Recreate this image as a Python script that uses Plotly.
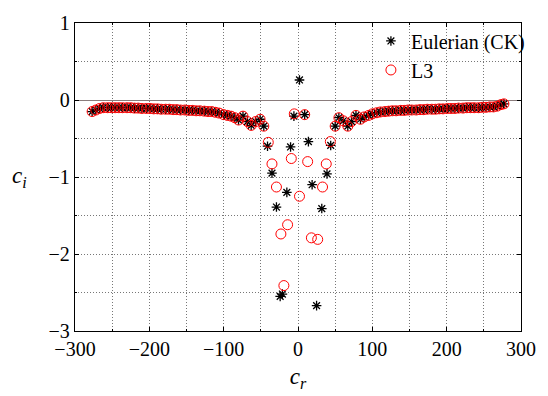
import plotly.graph_objects as go

# Branch points (both methods coincide there)
left_cr = [-277, -272, -267, -262, -256, -251, -246, -241, -236, -230, -225, -220, -215, -210,
           -204, -199, -194, -189, -184, -178, -173, -168, -163, -158, -152, -147, -142, -137,
           -132, -126, -121, -116, -111, -106, -100, -95, -90, -85, -80, -74, -68, -63, -57, -51, -46]
left_ci = [-0.15, -0.13, -0.11, -0.10, -0.10, -0.10, -0.10, -0.10, -0.10, -0.10, -0.10, -0.105,
           -0.105, -0.11, -0.11, -0.11, -0.115, -0.115, -0.12, -0.12, -0.12, -0.125, -0.125, -0.13,
           -0.13, -0.135, -0.135, -0.14, -0.14, -0.145, -0.15, -0.15, -0.16, -0.17, -0.19, -0.20,
           -0.21, -0.23, -0.26, -0.21, -0.28, -0.33, -0.28, -0.25, -0.34]
right_cr = [50, 55, 61, 67, 72, 78, 84, 89, 95, 100, 106, 111, 117, 122, 127, 132, 138, 143, 148,
            153, 159, 164, 169, 174, 180, 185, 190, 195, 201, 206, 211, 216, 222, 227, 232, 237,
            243, 248, 253, 258, 263, 268, 273, 277]
right_ci = [-0.34, -0.23, -0.27, -0.34, -0.28, -0.20, -0.25, -0.22, -0.20, -0.18, -0.165, -0.155,
            -0.15, -0.145, -0.14, -0.14, -0.135, -0.135, -0.13, -0.13, -0.13, -0.125, -0.125, -0.12,
            -0.12, -0.12, -0.115, -0.115, -0.11, -0.11, -0.11, -0.105, -0.105, -0.10, -0.10, -0.10,
            -0.10, -0.095, -0.095, -0.09, -0.09, -0.08, -0.06, -0.05]

# Central (scattered) eigenvalues
euler_cr = [2, -5.5, 9, -41, -10, 14, 44, -35, 39, -15, 19, -29, 32, -21, -24, 25]
euler_ci = [0.26, -0.21, -0.19, -0.60, -0.61, -0.54, -0.59, -0.95, -0.96, -1.20, -1.10, -1.39,
            -1.41, -2.52, -2.55, -2.67]
l3_cr = [-5, 9, -40, 43.5, -35, -9, 13, 38, -29, 33, 2, -14, -23, 18, 26.5, -19]
l3_ci = [-0.18, -0.19, -0.55, -0.54, -0.83, -0.76, -0.80, -0.83, -1.13, -1.13, -1.25, -1.62,
         -1.74, -1.79, -1.81, -2.41]

x_ticks = [-300, -200, -100, 0, 100, 200, 300]
y_ticks = [1, 0, -1, -2, -3]

euler_x = left_cr + euler_cr + right_cr
euler_y = left_ci + euler_ci + right_ci
l3_x = left_cr + l3_cr + right_cr
l3_y = left_ci + l3_ci + right_ci

FONT = "Liberation Serif, Times New Roman, serif"
GRID = "#777777"
DOT = "1px,2px"

fig = go.Figure()
fig.add_trace(go.Scatter(
    x=euler_x, y=euler_y, mode="markers", name="Eulerian (CK)",
    marker=dict(symbol="asterisk-open", size=8, color="black",
                line=dict(color="black", width=1.3)),
))
fig.add_trace(go.Scatter(
    x=l3_x, y=l3_y, mode="markers", name="L3",
    marker=dict(symbol="circle-open", size=10, color="red",
                line=dict(color="red", width=1)),
))

axis_common = dict(
    showline=True, linecolor="black", linewidth=1.3, mirror="ticks",
    ticks="inside", ticklen=4, tickcolor="black",
    showgrid=True, gridcolor=GRID, griddash=DOT, gridwidth=1,
    tickfont=dict(family=FONT, size=20, color="black"),
)

fig.update_xaxes(
    range=[-300, 300], tickvals=x_ticks, zeroline=False,
    minor=dict(dtick=50, tick0=0, showgrid=True, gridcolor=GRID, griddash=DOT,
               ticks="inside", ticklen=2, tickcolor="black"),
    title=dict(text="<i>c<sub>r</sub></i>", font=dict(family=FONT, size=23, color="black"),
               standoff=8),
    **axis_common,
)
fig.update_yaxes(
    range=[-3, 1], tickvals=y_ticks, zeroline=True, zerolinecolor="#8a7c7c", zerolinewidth=1,
    minor=dict(dtick=0.5, tick0=0, showgrid=True, gridcolor=GRID, griddash=DOT,
               ticks="inside", ticklen=2, tickcolor="black"),
    **axis_common,
)

fig.add_annotation(
    text="<i>c<sub>i</sub></i>", xref="paper", yref="paper",
    x=-0.125, y=0.5, xanchor="center", yanchor="middle", showarrow=False,
    font=dict(family=FONT, size=23, color="black"),
)

fig.update_layout(
    width=548, height=396,
    margin=dict(l=75, r=16, t=13, b=61),
    plot_bgcolor="white", paper_bgcolor="white",
    font=dict(family=FONT, size=20, color="black"),
    legend=dict(x=1.02, y=1.005, xanchor="right", yanchor="top",
                bgcolor="rgba(255,255,255,0)", borderwidth=0,
                font=dict(family=FONT, size=20, color="black"),
                itemwidth=30, tracegroupgap=0),
    showlegend=True,
)

fig.write_html("out.html")
